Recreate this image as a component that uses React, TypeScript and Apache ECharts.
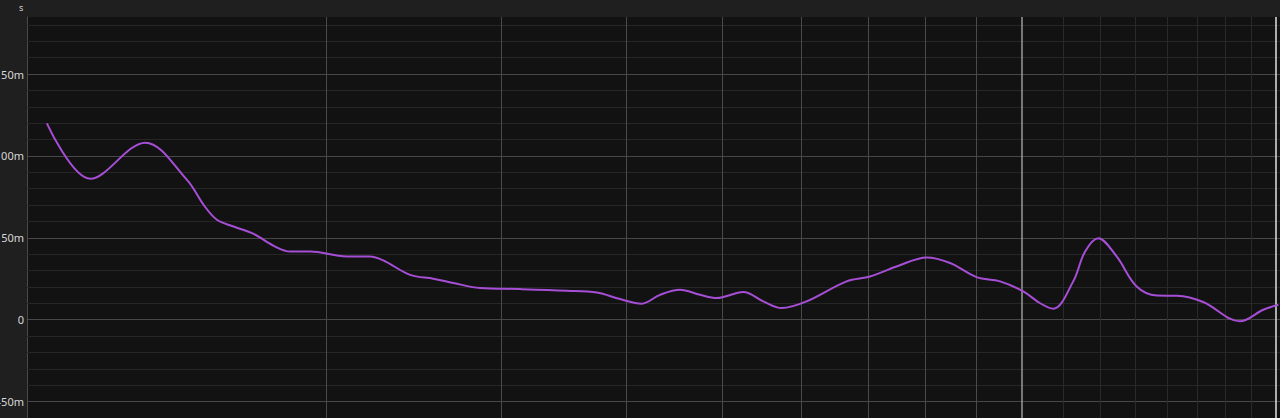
import React, { useEffect, useRef } from "react";
import * as echarts from "echarts";

// Frequency (Hz) of each traced point and its group delay (ms)
const FREQ = [10.47, 11.58, 13.15, 14.48, 15.05, 15.52, 16.13, 16.9, 17.7, 18.39, 19.27, 20.49, 20.96, 22.12, 22.81, 24.27, 25.61, 26.83, 28.53, 31.31, 34.87, 37.38, 39.45, 41.48, 43.27, 45.31, 47.47, 49.34, 52.48, 54.95, 57.34, 60.75, 66.65, 70.34, 74.82, 80.23, 84.68, 90.04, 95.06, 100.3, 104.2, 107.5, 112.6, 115.7, 119.3, 124.5, 130.4, 136.6, 143.1, 152.1, 165.6, 174.8, 181.0];
const DELAY_MS = [119.9, 86.0, 108.1, 85.4, 70.1, 61.0, 56.9, 52.4, 45.1, 41.6, 41.6, 39.2, 38.6, 38.6, 36.2, 27.4, 25.0, 22.4, 19.3, 18.7, 17.7, 16.6, 12.6, 9.8, 15.2, 18.3, 15.2, 13.2, 16.9, 11.2, 7.1, 11.2, 23.4, 26.4, 32.5, 38.0, 34.6, 26.0, 23.4, 17.3, 10.2, 6.7, 23.4, 41.5, 49.8, 38.6, 20.3, 14.8, 14.6, 10.8, -1.0, 6.1, 9.1];

// Grid positions
const X_MID_LINES = [20, 30, 40, 50, 60, 70, 80, 90];
const X_DECADE_LINES = [100];
const X_FINE_LINES = [110, 120, 130, 140, 150, 160, 170];
const X_MARK_LINES = [180];
const Y_MAJOR_LINES = [-50, 0, 50, 100, 150];
const Y_MINOR_LINES = [-60, -40, -30, -20, -10, 10, 20, 30, 40, 60, 70, 80, 90, 110, 120, 130, 140, 160, 170, 180];

const X_MIN = 10;
const X_MAX = 181.7;
const Y_MIN = -60;
const Y_MAX = 184.8;

export default function App() {
  const ref = useRef<HTMLDivElement>(null);
  useEffect(() => {
    if (!ref.current) return;
    const chart = echarts.init(ref.current, null, { renderer: "svg" });
    const data = FREQ.map((f, i) => [f, DELAY_MS[i]]);
    const vLine = (v: number, color: string, width: number) => ({
      xAxis: v,
      lineStyle: { color, width, type: "solid" },
    });
    const hLine = (v: number, color: string, width: number) => ({
      yAxis: v,
      lineStyle: { color, width, type: "solid" },
    });
    const gridLines = [
      ...Y_MINOR_LINES.map((v) => hLine(v, "#262626", 1)),
      ...Y_MAJOR_LINES.map((v) => hLine(v, "#484848", 1)),
      ...X_FINE_LINES.map((v) => vLine(v, "#2a2a2a", 1)),
      ...X_MID_LINES.map((v) => vLine(v, "#4a4a4a", 1)),
      ...X_DECADE_LINES.map((v) => vLine(v, "#9a9a9a", 1.5)),
      ...X_MARK_LINES.map((v) => vLine(v, "#e0e0e0", 1.5)),
    ];
    chart.setOption({
      animation: false,
      backgroundColor: "#1f1f1f",
      grid: {
        left: 27,
        top: 17,
        right: 0,
        bottom: 0,
        containLabel: false,
        outerBoundsMode: "none",
        show: true,
        backgroundColor: "#121212",
        borderWidth: 0,
      },
      graphic: [
        {
          type: "text",
          left: 19,
          top: 3,
          style: { text: "s", fill: "#cfcfcf", font: "9px 'Noto Sans'" },
        },
      ],
      xAxis: {
        type: "log",
        logBase: 10,
        min: X_MIN,
        max: X_MAX,
        position: "top",
        axisLine: { show: true, lineStyle: { color: "#4a4a4a", width: 1 } },
        axisTick: { show: false },
        axisLabel: { show: false },
        splitLine: { show: false },
        minorSplitLine: { show: false },
      },
      yAxis: {
        type: "value",
        min: Y_MIN,
        max: Y_MAX,
        interval: 10,
        axisLine: { show: true, lineStyle: { color: "#4a4a4a", width: 1 } },
        axisTick: { show: false },
        splitLine: { show: false },
        axisLabel: {
          show: true,
          interval: 0,
          margin: 3,
          color: "#d8d8d8",
          fontSize: 11,
          fontFamily: "Noto Sans",
          showMinLabel: true,
          showMaxLabel: true,
          formatter: (v: number) => {
            const r = Math.round(v);
            if (Math.abs(v - r) > 1e-6 || r % 50 !== 0) return "";
            return r === 0 ? "0" : r + "m";
          },
        },
      },
      series: [
        {
          type: "line",
          z: 1,
          data: data,
          symbol: "none",
          lineStyle: { opacity: 0, width: 0 },
          silent: true,
          markLine: {
            z: 1,
            silent: true,
            symbol: ["none", "none"],
            label: { show: false },
            emphasis: { disabled: true },
            data: gridLines,
          },
        },
        {
          type: "line",
          z: 3,
          data: data,
          symbol: "none",
          smooth: 0.35,
          lineStyle: { color: "#a64fd6", width: 2 },
          silent: true,
        },
      ],
    });
    return () => chart.dispose();
  }, []);
  return (
    <div
      ref={ref}
      style={{ position: "fixed", left: 0, top: 0, width: 1280, height: 418 }}
    />
  );
}
